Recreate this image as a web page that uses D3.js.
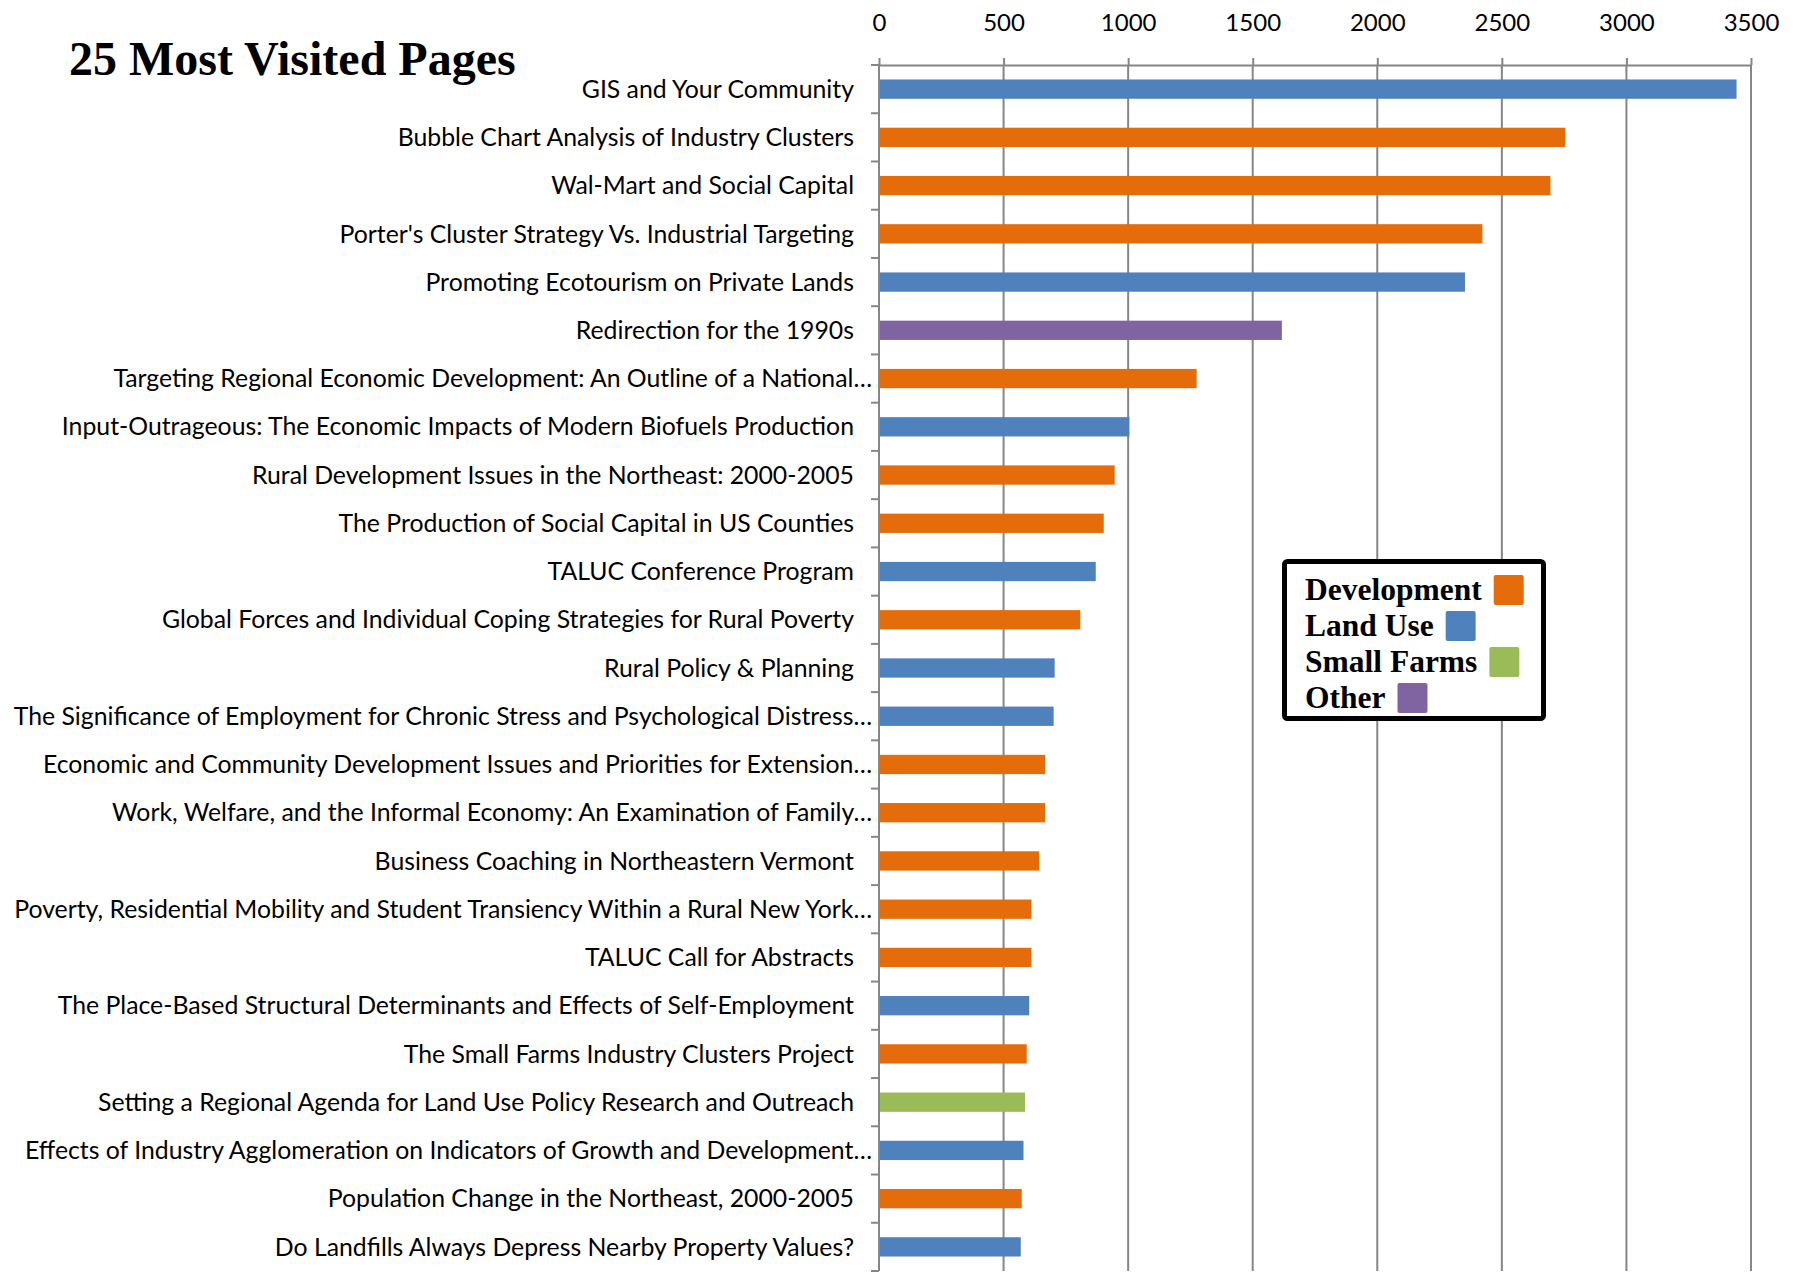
<!DOCTYPE html>
<html>
<head>
<meta charset="utf-8">
<script src="https://cdn.jsdelivr.net/npm/d3@7"></script>
<style>
  body { margin: 0; background: #fff; }
  svg { display: block; }
</style>
</head>
<body>
<svg id="chart" width="1797" height="1275"></svg>
<script>
// page titles, top to bottom
const pages = [
  'GIS and Your Community',
  'Bubble Chart Analysis of Industry Clusters',
  'Wal-Mart and Social Capital',
  "Porter's Cluster Strategy Vs. Industrial Targeting",
  'Promoting Ecotourism on Private Lands',
  'Redirection for the 1990s',
  'Targeting Regional Economic Development: An Outline of a National…',
  'Input-Outrageous: The Economic Impacts of Modern Biofuels Production',
  'Rural Development Issues in the Northeast: 2000-2005',
  'The Production of Social Capital in US Counties',
  'TALUC Conference Program',
  'Global Forces and Individual Coping Strategies for Rural Poverty',
  'Rural Policy & Planning',
  'The Significance of Employment for Chronic Stress and Psychological Distress…',
  'Economic and Community Development Issues and Priorities for Extension…',
  'Work, Welfare, and the Informal Economy: An Examination of Family…',
  'Business Coaching in Northeastern Vermont',
  'Poverty, Residential Mobility and Student Transiency Within a Rural New York…',
  'TALUC Call for Abstracts',
  'The Place-Based Structural Determinants and Effects of Self-Employment',
  'The Small Farms Industry Clusters Project',
  'Setting a Regional Agenda for Land Use Policy Research and Outreach',
  'Effects of Industry Agglomeration on Indicators of Growth and Development…',
  'Population Change in the Northeast, 2000-2005',
  'Do Landfills Always Depress Nearby Property Values?'
]

const visits = [3442, 2755, 2695, 2422, 2352, 1617, 1275, 1005, 946, 902, 870, 808,
  705, 701, 667, 667, 643, 612, 612, 603, 593, 586, 580, 573, 569]

const topics = ['Land Use', 'Development', 'Development', 'Development', 'Land Use',
  'Other', 'Development', 'Land Use', 'Development', 'Development', 'Land Use',
  'Development', 'Land Use', 'Land Use', 'Development', 'Development', 'Development',
  'Development', 'Development', 'Land Use', 'Development', 'Small Farms', 'Land Use',
  'Development', 'Land Use']

const legendNames = ['Development', 'Land Use', 'Small Farms', 'Other']
const legendColors = ['#E46C0A', '#4F81BD', '#9BBB59', '#8064A2']

const xTicks = [0, 500, 1000, 1500, 2000, 2500, 3000, 3500]

const svg = d3.select('#chart')
const grey = '#868686'
const labelFont = 'Lato, "Open Sans", sans-serif'
const serif = '"Liberation Serif", "DejaVu Serif", serif'

const color = d3.scaleOrdinal().domain(legendNames).range(legendColors)

const x = d3.scaleLinear().domain([0, 3500]).range([879, 1751])
const y = d3.scaleBand().domain(pages).range([65, 1271])
  .paddingInner(0.6).paddingOuter(0.3)

/* ---------- gridlines ---------- */
svg.append('g')
  .selectAll('line')
  .data(xTicks.slice(1))
  .enter().append('line')
  .attr('x1', d => x(d)).attr('x2', d => x(d))
  .attr('y1', 65).attr('y2', 1271)
  .attr('stroke', grey)
  .attr('stroke-width', 2)

/* ---------- top axis ---------- */
const topAxis = svg.append('g')
  .attr('transform', 'translate(0,65)')
  .call(d3.axisTop(x).tickValues(xTicks).tickFormat(d3.format('d'))
    .tickSize(7).tickSizeOuter(0).tickPadding(27))
topAxis.select('.domain').attr('stroke', grey).attr('stroke-width', 2)
topAxis.selectAll('.tick line').attr('stroke', grey).attr('stroke-width', 2)
topAxis.selectAll('text')
  .style('font-family', labelFont)
  .style('font-size', '24px')
  .attr('fill', '#000')

/* ---------- left axis line + tick marks at band edges ---------- */
svg.append('line')
  .attr('x1', 879).attr('x2', 879)
  .attr('y1', 65).attr('y2', 1271)
  .attr('stroke', grey).attr('stroke-width', 2)

const step = y.step()
svg.append('g')
  .selectAll('line')
  .data(d3.range(pages.length + 1))
  .enter().append('line')
  .attr('x1', 871).attr('x2', 879)
  .attr('y1', i => y.range()[0] + i * step)
  .attr('y2', i => y.range()[0] + i * step)
  .attr('stroke', grey).attr('stroke-width', 2)

/* ---------- bars ---------- */
svg.append('g')
  .selectAll('rect')
  .data(pages)
  .enter().append('rect')
  .attr('x', x(0) + 1)
  .attr('y', d => y(d))
  .attr('width', (d, i) => x(visits[i]) - x(0) - 1)
  .attr('height', y.bandwidth())
  .attr('fill', (d, i) => color(topics[i]))

/* ---------- category labels ---------- */
svg.append('g')
  .selectAll('text')
  .data(pages)
  .enter().append('text')
  .attr('x', d => d.endsWith('…') ? 872 : 854)
  .attr('y', d => y(d) + y.bandwidth() / 2)
  .attr('dy', '0.35em')
  .attr('text-anchor', 'end')
  .style('font-family', labelFont)
  .style('font-size', '24.8px')
  .attr('fill', '#000')
  .text(d => d)

/* ---------- title ---------- */
svg.append('text')
  .attr('x', 69)
  .attr('y', 75)
  .style('font-family', serif)
  .style('font-weight', 'bold')
  .style('font-size', '48px')
  .attr('fill', '#000')
  .text('25 Most Visited Pages')

/* ---------- legend ---------- */
const legend = svg.append('g')
legend.append('rect')
  .attr('x', 1284.5).attr('y', 561.5)
  .attr('width', 259).attr('height', 157)
  .attr('rx', 3)
  .attr('fill', '#fff')
  .attr('stroke', '#000')
  .attr('stroke-width', 5)

legendNames.forEach((name, i) => {
  const baseline = 600 + i * 36
  const t = legend.append('text')
    .attr('x', 1305)
    .attr('y', baseline)
    .style('font-family', serif)
    .style('font-weight', 'bold')
    .style('font-size', '31.5px')
    .attr('fill', '#000')
    .text(name)
  const w = t.node().getComputedTextLength()
  legend.append('rect')
    .attr('x', 1305 + w + 12)
    .attr('y', baseline - 25)
    .attr('width', 30).attr('height', 30)
    .attr('rx', 2)
    .attr('fill', legendColors[i])
})
</script>
</body>
</html>
